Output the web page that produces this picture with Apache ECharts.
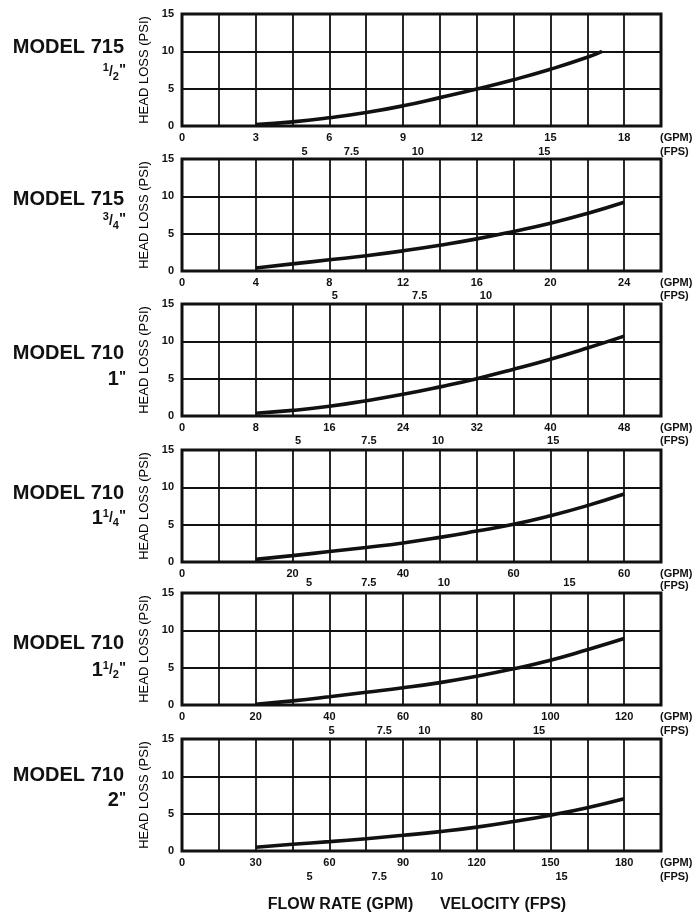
<!DOCTYPE html>
<html>
<head>
<meta charset="utf-8">
<script src="https://cdn.jsdelivr.net/npm/echarts@6/dist/echarts.min.js"></script>
<style>
html,body{margin:0;padding:0;background:#fff;}
#c{width:699px;height:916px;}
</style>
</head>
<body>
<div id="c"></div>
<script>
// ---------- DATA ----------
// Model 715 1/2"
const gpm1 = [3, 4.5, 6, 7.5, 9, 10.5, 12, 13.5, 15, 16.5, 17.1];
const psi1 = [0.2, 0.55, 1.1, 1.8, 2.7, 3.8, 4.95, 6.2, 7.6, 9.2, 10.0];
const gpmTicks1 = [0, 3, 6, 9, 12, 15, 18];
const gpmLabels1 = ["0", "3", "6", "9", "12", "15", "18"];
const fpsAt1 = [4.99, 6.9, 9.6, 14.75];
const fpsLabels1 = ["5", "7.5", "10", "15"];

// Model 715 3/4"
const gpm2 = [4, 6, 8, 10, 12, 14, 16, 18, 20, 22, 24];
const psi2 = [0.4, 0.95, 1.5, 2.05, 2.7, 3.45, 4.3, 5.3, 6.4, 7.7, 9.2];
const gpmTicks2 = [0, 4, 8, 12, 16, 20, 24];
const gpmLabels2 = ["0", "4", "8", "12", "16", "20", "24"];
const fpsAt2 = [8.3, 12.9, 16.5];
const fpsLabels2 = ["5", "7.5", "10"];

// Model 710 1"
const gpm3 = [8, 12, 16, 20, 24, 28, 32, 36, 40, 44, 48];
const psi3 = [0.36, 0.75, 1.3, 2.05, 2.9, 3.9, 5.0, 6.25, 7.6, 9.1, 10.7];
const gpmTicks3 = [0, 8, 16, 24, 32, 40, 48];
const gpmLabels3 = ["0", "8", "16", "24", "32", "40", "48"];
const fpsAt3 = [12.6, 20.3, 27.8, 40.3];
const fpsLabels3 = ["5", "7.5", "10", "15"];

// Model 710 1 1/4"
const gpm4 = [13.33, 20, 26.67, 33.33, 40, 46.67, 53.33, 60, 66.67, 73.33, 80];
const psi4 = [0.35, 0.85, 1.4, 1.95, 2.55, 3.3, 4.15, 5.05, 6.2, 7.55, 9.1];
const gpmTicks4 = [0, 20, 40, 60, 80];
const gpmLabels4 = ["0", "20", "40", "60", "60"];
const fpsAt4 = [23.0, 33.8, 47.4, 70.1];
const fpsLabels4 = ["5", "7.5", "10", "15"];

// Model 710 1 1/2"
const gpm5 = [20, 30, 40, 50, 60, 70, 80, 90, 100, 110, 120];
const psi5 = [0.1, 0.55, 1.1, 1.7, 2.3, 3.0, 3.85, 4.85, 6.0, 7.4, 8.9];
const gpmTicks5 = [0, 20, 40, 60, 80, 100, 120];
const gpmLabels5 = ["0", "20", "40", "60", "80", "100", "120"];
const fpsAt5 = [40.6, 54.9, 65.8, 96.9];
const fpsLabels5 = ["5", "7.5", "10", "15"];

// Model 710 2"
const gpm6 = [30, 45, 60, 75, 90, 105, 120, 135, 150, 165, 180];
const psi6 = [0.5, 0.9, 1.25, 1.65, 2.1, 2.6, 3.2, 3.95, 4.8, 5.8, 7.0];
const gpmTicks6 = [0, 30, 60, 90, 120, 150, 180];
const gpmLabels6 = ["0", "30", "60", "90", "120", "150", "180"];
const fpsAt6 = [51.9, 80.3, 103.8, 154.5];
const fpsLabels6 = ["5", "7.5", "10", "15"];

// axis ranges (GPM): max and gridline step
const gpmMax = [19.5, 26, 52, 260 / 3, 130, 195];
const gpmStep = [1.5, 2, 4, 20 / 3, 10, 15];

const modelNames = ["MODEL 715", "MODEL 715", "MODEL 710", "MODEL 710", "MODEL 710", "MODEL 710"];
const sizeWhole = ["", "", "1", "1", "1", "2"];
const sizeNum = ["1", "3", "", "1", "1", ""];
const sizeDen = ["2", "4", "", "4", "2", ""];

const yTitle = "HEAD LOSS (PSI)";
const gpmUnit = "(GPM)";
const fpsUnit = "(FPS)";
const bottomTitle = "FLOW RATE (GPM)      VELOCITY (FPS)";

// ---------- LAYOUT ----------
const FONT = "'Liberation Sans', Arial, Helvetica, sans-serif";
const gridTops = [14, 159, 304, 450, 593, 739];
const gridH = 112;
const fpsOffsets = [14, 13, 13, 9, 14, 14];
const fpsNamePad = [6, 6, 6, 9, 6, 6];
const modelY = [47, 199, 353, 493, 643, 775];
const sizeY = [72, 221, 379, 518, 670, 800];

const sets = [
  {gpm: gpm1, psi: psi1, ticks: gpmTicks1, labels: gpmLabels1, fpsAt: fpsAt1, fps: fpsLabels1},
  {gpm: gpm2, psi: psi2, ticks: gpmTicks2, labels: gpmLabels2, fpsAt: fpsAt2, fps: fpsLabels2},
  {gpm: gpm3, psi: psi3, ticks: gpmTicks3, labels: gpmLabels3, fpsAt: fpsAt3, fps: fpsLabels3},
  {gpm: gpm4, psi: psi4, ticks: gpmTicks4, labels: gpmLabels4, fpsAt: fpsAt4, fps: fpsLabels4},
  {gpm: gpm5, psi: psi5, ticks: gpmTicks5, labels: gpmLabels5, fpsAt: fpsAt5, fps: fpsLabels5},
  {gpm: gpm6, psi: psi6, ticks: gpmTicks6, labels: gpmLabels6, fpsAt: fpsAt6, fps: fpsLabels6}
];

function nearestLabel(v, arr, labels) {
  let best = 0, bd = Infinity;
  arr.forEach((a, k) => { const d = Math.abs(a - v); if (d < bd) { bd = d; best = k; } });
  return labels[best];
}

const INK = '#111111';
const labelStyle = {fontSize: 11, fontWeight: 'bold', color: INK, fontFamily: FONT};

const option = {
  backgroundColor: '#fff',
  animation: false,
  grid: [], xAxis: [], yAxis: [], series: [], graphic: []
};

sets.forEach((c, i) => {
  option.grid.push({
    left: 182, right: 38, top: gridTops[i], height: gridH,
    show: true, borderColor: INK, borderWidth: 3, backgroundColor: 'transparent'
  });
  // GPM axis
  option.xAxis.push({
    gridIndex: i, type: 'value', min: 0, max: gpmMax[i], interval: gpmStep[i], position: 'bottom',
    axisLine: {show: false}, axisTick: {show: false},
    splitLine: {show: true, lineStyle: {color: INK, width: 1.8}},
    axisLabel: Object.assign({
      customValues: c.ticks, margin: 6,
      formatter: (v) => nearestLabel(v, c.ticks, c.labels)
    }, labelStyle),
    name: gpmUnit, nameLocation: 'end', nameGap: -1,
    nameTextStyle: Object.assign({align: 'left', verticalAlign: 'top', padding: [6, 0, 0, 0]}, labelStyle)
  });
  // FPS axis
  option.xAxis.push({
    gridIndex: i, type: 'value', min: 0, max: gpmMax[i], position: 'bottom', offset: fpsOffsets[i],
    axisLine: {show: false}, axisTick: {show: false}, splitLine: {show: false},
    axisLabel: Object.assign({
      customValues: c.fpsAt, margin: 6,
      formatter: (v) => nearestLabel(v, c.fpsAt, c.fps)
    }, labelStyle),
    name: fpsUnit, nameLocation: 'end', nameGap: -1,
    nameTextStyle: Object.assign({align: 'left', verticalAlign: 'top', padding: [fpsNamePad[i], 0, 0, 0]}, labelStyle)
  });
  option.yAxis.push({
    gridIndex: i, type: 'value', min: 0, max: 15, interval: 5,
    axisLine: {show: false}, axisTick: {show: false},
    splitLine: {show: true, lineStyle: {color: INK, width: 1.8}},
    axisLabel: Object.assign({margin: 8}, labelStyle),
    name: yTitle, nameLocation: 'middle', nameGap: 27,
    nameTextStyle: {fontSize: 13, color: '#000', fontFamily: FONT}
  });
  option.series.push({
    type: 'line', xAxisIndex: 2 * i, yAxisIndex: i,
    data: c.gpm.map((g, k) => [g, c.psi[k]]),
    smooth: 0.5, symbol: 'none',
    lineStyle: {color: INK, width: 3.6, cap: 'butt'}, z: 5
  });

  // model labels
  option.graphic.push({
    type: 'text', x: 124, y: modelY[i],
    style: {text: modelNames[i], font: 'bold 20px ' + FONT, fill: INK, align: 'right', verticalAlign: 'middle'}
  });
  let rt = '';
  if (sizeWhole[i]) rt += '{w|' + sizeWhole[i] + '}';
  if (sizeNum[i]) rt += '{n|' + sizeNum[i] + '}{sl|/}{d|' + sizeDen[i] + '}';
  rt += '{q|"}';
  option.graphic.push({
    type: 'text', x: 126, y: sizeY[i],
    style: {
      text: rt, align: 'right', verticalAlign: 'middle', fill: INK,
      rich: {
        w: {fontSize: 20, fontWeight: 'bold', fontFamily: FONT, fill: INK, lineHeight: 20},
        n: {fontSize: 11, fontWeight: 'bold', fontFamily: FONT, fill: INK, verticalAlign: 'top', lineHeight: 20, padding: [0, 0, 6, 0]},
        sl: {fontSize: 14, fontWeight: 'bold', fontFamily: FONT, fill: INK, lineHeight: 20},
        d: {fontSize: 11, fontWeight: 'bold', fontFamily: FONT, fill: INK, verticalAlign: 'bottom', lineHeight: 20},
        q: {fontSize: 15, fontWeight: 'bold', fontFamily: FONT, fill: INK, verticalAlign: 'top', lineHeight: 20}
      }
    }
  });
});

option.graphic.push({
  type: 'text', x: 417, y: 905,
  style: {text: bottomTitle, font: 'bold 16px ' + FONT, fill: INK, align: 'center', verticalAlign: 'middle'}
});

const chart = echarts.init(document.getElementById('c'), null, {renderer: 'canvas'});
chart.setOption(option);
</script>
</body>
</html>
